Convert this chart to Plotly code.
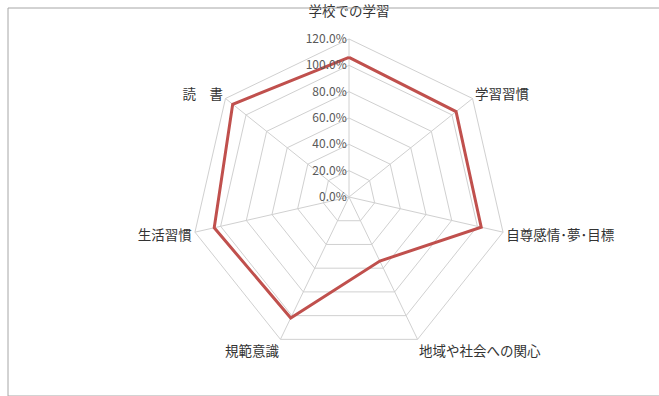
import plotly.graph_objects as go

categories = ["学校での学習", "学習習慣", "自尊感情･夢･目標", "地域や社会への関心", "規範意識", "生活習慣", "読　書"]
values = [1.06, 1.04, 1.03, 0.54, 1.02, 1.05, 1.13]
radial_ticks = [0, 0.2, 0.4, 0.6, 0.8, 1.0, 1.2]
radial_labels = ["0.0%", "20.0%", "40.0%", "60.0%", "80.0%", "100.0%", "120.0%"]

W, H = 659, 396
cx, cy, R = 349, 197, 158

# top label lifted slightly above the radial tick labels, as in the original
angular_text = [categories[0] + "<br><span style='font-size:7px'> </span>"] + categories[1:]

fig = go.Figure()
fig.add_trace(go.Scatterpolar(
    r=values + values[:1],
    theta=categories + categories[:1],
    mode="lines",
    line=dict(color="#c0504d", width=3),
    showlegend=False,
    hoverinfo="skip",
))

grid_color = "#d0d0d0"
fig.update_layout(
    width=W, height=H,
    margin=dict(l=0, r=0, t=0, b=0),
    paper_bgcolor="white",
    font=dict(family="Noto Sans CJK JP", size=13, color="#333333"),
    polar=dict(
        domain=dict(x=[(cx - R) / W, (cx + R) / W], y=[(H - cy - R) / H, (H - cy + R) / H]),
        bgcolor="white",
        gridshape="linear",
        radialaxis=dict(
            range=[0, 1.2],
            tickvals=radial_ticks,
            ticktext=radial_labels,
            angle=90,
            tickangle=90,
            side="counterclockwise",
            showline=False,
            ticks="",
            gridcolor=grid_color,
            gridwidth=1,
            tickfont=dict(size=12, color="#595959"),
        ),
        angularaxis=dict(
            direction="clockwise",
            rotation=90,
            tickvals=categories,
            ticktext=angular_text,
            linecolor=grid_color,
            gridcolor=grid_color,
            ticks="",
            tickfont=dict(size=13.5, color="#333333"),
        ),
    ),
    shapes=[dict(type="rect", xref="paper", yref="paper", x0=8 / W, x1=1.01, y0=0.0, y1=1 - 8 / H,
                 line=dict(color="#a6a6a6", width=1))],
)

fig.write_html("out.html")
